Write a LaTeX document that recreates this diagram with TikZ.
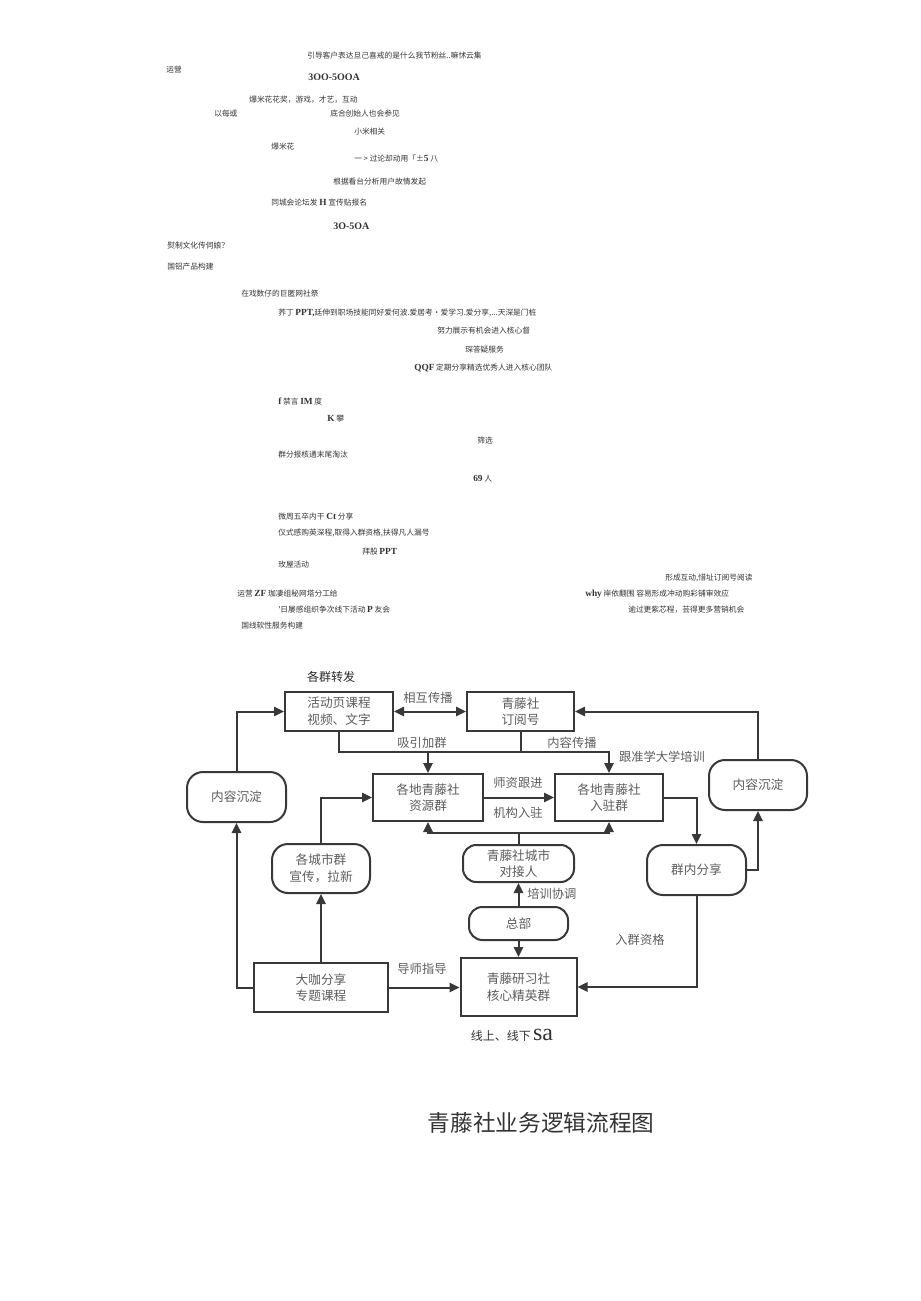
\documentclass[tikz,border=0pt]{standalone}
\usepackage{fontspec}
\newfontfamily\cjk{Noto Sans CJK SC}
\newfontfamily\tms{Liberation Serif}
\usetikzlibrary{arrows.meta}
\definecolor{linegray}{HTML}{383838}
\definecolor{txtgray}{HTML}{5C5C5C}
\newcommand{\lat}[1]{{\tms\bfseries\fontsize{7}{7}\selectfont #1}}
\newcommand{\latbig}[1]{{\tms\bfseries\fontsize{7.5}{7.5}\selectfont #1}}

\begin{document}
\begin{tikzpicture}[x=0.75pt,y=-0.75pt,
    >={Triangle[length=7.5pt,width=7pt]},
    note/.style={anchor=west,inner sep=0pt,font=\cjk\fontsize{5.8}{7}\selectfont,text=black!80},
    box/.style={draw=linegray,line width=1.5pt,align=center,inner sep=1pt,
      font=\cjk\fontsize{9.5}{12.5}\selectfont,text=txtgray},
    roundbox/.style={box,rounded corners=12pt},
    lbl/.style={inner sep=0pt,font=\cjk\fontsize{9.2}{11}\selectfont,text=txtgray},
    flow/.style={draw=linegray,line width=1.5pt}]

  \useasboundingbox (0,0) rectangle (920,1301);

  % notes above the chart
  \node[note] (n1) at (307,56) {引导客户表达旦己喜戒的是什么我节粉丝..嘛怵云集};
  \node[note] (n2) at (166,70) {运營};
  \node[note] (n3) at (308,77) {\latbig{3OO-5OOA}};
  \node[note] (n4) at (249,100) {爆米花花奖，游戏，才艺，互动};
  \node[note] (n5) at (214,114) {以每或};
  \node[note] (n6) at (330,114) {底合创始人也会参见};
  \node[note] (n7) at (354,132) {小米相关};
  \node[note] (n8) at (271,147) {爆米花};
  \node[note] (n9) at (354,159) {一 > 过论却动用「±\lat{5} 八};
  \node[note] (n10) at (333,182) {根据看台分析用户故情发起};
  \node[note] (n11) at (271,203) {同城会论坛发 \lat{H} 宣传贴报名};
  \node[note] (n12) at (333,226) {\latbig{3O-5OA}};
  \node[note] (n13) at (167,246) {熨制文化传伺娘？};
  \node[note] (n14) at (167,267) {国铝产品构建};
  \node[note] (n15) at (241,294) {在戏数仔的巨匿网社祭};
  \node[note] (n16) at (278,313) {荞丁 \lat{PPT,}廷伸到职场技能同好爱何波.爱居考・爱学习.爱分享,...天深是门桩};
  \node[note] (n17) at (437,331) {努力展示有机会进入核心督};
  \node[note] (n18) at (465,350) {琛答疑服务};
  \node[note] (n19) at (414,368) {\lat{QQF} 定期分享精选优秀人进入核心团队};
  \node[note] (n20) at (278,402) {\lat{f} 禁言 \lat{IM} 度};
  \node[note] (n21) at (327,419) {\lat{K} 攀};
  \node[note] (n22) at (477,441) {筛选};
  \node[note] (n23) at (278,455) {群分报核通末尾淘汰};
  \node[note] (n24) at (473,479) {\lat{69} 人};
  \node[note] (n25) at (278,517) {微周五卒内干 \lat{Ct} 分享};
  \node[note] (n26) at (278,533) {仪式感购英深程,取得入群资格,扶得凡人漏号};
  \node[note] (n27) at (362,552) {拜股 \lat{PPT}};
  \node[note] (n28) at (278,565) {玫屋活动};
  \node[note] (n29) at (665,578) {形成互动,惜址订阅号阅读};
  \node[note] (n30) at (237,594) {运营 \lat{ZF} 珈凄组秘网塔分工给};
  \node[note] (n31) at (585,594) {\lat{why} 岸依翻围 容易形成冲动购彩铺审效应};
  \node[note] (n32) at (278,610) {'日屡感组织争次线下活动 \lat{P} 友会};
  \node[note] (n33) at (628,610) {逾过更紫芯程，芸得更多营销机会};
  \node[note] (n34) at (241,626) {国线软性服务构建};

  % chart boxes
  \node[box,minimum width=81pt,minimum height=29.25pt] (act) at (339,711.5) {活动页课程\\视频、文字};
  \node[box,minimum width=80.25pt,minimum height=29.25pt] (sub) at (520.5,711.5) {青藤社\\订阅号};
  \node[box,minimum width=82.5pt,minimum height=35.25pt] (res) at (428,797.5) {各地青藤社\\资源群};
  \node[box,minimum width=81pt,minimum height=35.25pt] (join) at (609,797.5) {各地青藤社\\入驻群};
  \node[roundbox,minimum width=74.25pt,minimum height=37.5pt] (sedL) at (236.5,797) {内容沉淀};
  \node[roundbox,minimum width=73.5pt,minimum height=37.5pt] (sedR) at (758,785) {内容沉淀};
  \node[roundbox,minimum width=73.5pt,minimum height=36.75pt] (city) at (321,868.5) {各城市群\\宣传，拉新};
  \node[roundbox,minimum width=74.25pt,minimum height=37.5pt] (share) at (696.5,870) {群内分享};
  \node[roundbox,rounded corners=10pt,minimum width=83.25pt,minimum height=27.75pt] (contact) at (518.5,863.5) {青藤社城市\\对接人};
  \node[roundbox,rounded corners=10pt,minimum width=74.25pt,minimum height=24.75pt] (hq) at (518.5,923.5) {总部};
  \node[box,minimum width=87pt,minimum height=43.5pt] (core) at (518.5,987) {青藤研习社\\核心精英群};
  \node[box,minimum width=100.5pt,minimum height=36.75pt] (big) at (321,987.5) {大咖分享\\专题课程};

  % connector labels
  \node[lbl,text=black!85,font=\cjk\fontsize{9}{11}\selectfont] (fwd) at (331,677) {各群转发};
  \node[lbl] (mutual) at (428,698) {相互传播};
  \node[lbl] (attract) at (422,743) {吸引加群};
  \node[lbl] (spread) at (572,743) {内容传播};
  \node[lbl] (follow) at (662,757) {跟准学大学培训};
  \node[lbl] (teach) at (518,783) {师资跟进};
  \node[lbl] (settle) at (518,813) {机构入驻};
  \node[lbl,anchor=west] (train) at (527,894) {培训协调};
  \node[lbl] (mentor) at (422,969) {导师指导};
  \node[lbl] (qualify) at (640,940) {入群资格};
  \node[inner sep=0pt,text=black!80] (offline) at (512,1035) {{\cjk\fontsize{9}{9}\selectfont 线上、线下}\,{\tms\fontsize{18}{18}\selectfont sa}};
  \node[inner sep=0pt,text=black!80] (title) at (541,1123) {\cjk\fontsize{17}{17}\selectfont 青藤社业务逻辑流程图};

  \coordinate (bustop) at (0,752);
  \coordinate (busbot) at (0,833);

  % connectors
  \draw[flow,<->] (act) -- (sub);
  \draw[flow,->] (sedR.north) |- (sub.east);
  \draw[flow,->] (sedL.north) |- (act.west);
  \draw[flow,->] (act.south) |- (join.north |- bustop) -- (join.north);
  \draw[flow] (sub.south) -- (sub.south |- bustop);
  \draw[flow,->] (res.north |- bustop) -- (res.north);
  \draw[flow,->] (res) -- (join);
  \draw[flow,->] (join.east) -| (share.north);
  \draw[flow,->] (share.east) -| (sedR.south);
  \draw[flow,->] (share.south) |- (core.east);
  \draw[flow,->] (contact.north) |- (res.south |- busbot) -- (res.south);
  \draw[flow,->] (contact.north |- busbot) -| (join.south);
  \draw[flow,->] (hq) -- (contact);
  \draw[flow,->] (hq) -- (core);
  \draw[flow,->] (big.east) -- (core.west |- big.east);
  \draw[flow,->] (big.west) -| (sedL.south);
  \draw[flow,->] (big) -- (city);
  \draw[flow,->] (city.north) |- (res.west);

\end{tikzpicture}
\end{document}
